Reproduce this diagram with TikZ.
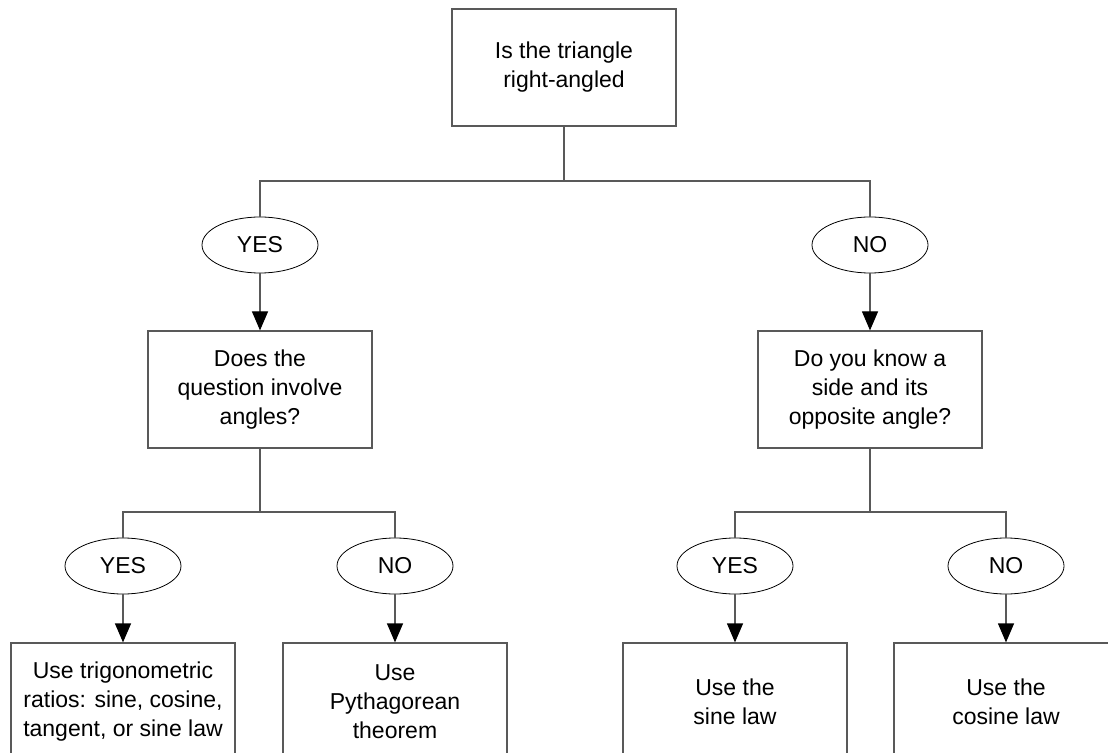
\documentclass[tikz,border=0pt]{standalone}
\usepackage{fontspec}
\setmainfont{Liberation Sans}
\usetikzlibrary{shapes,arrows.meta,positioning,calc}

\tikzset{
  qbox/.style={draw=gray!70!black, line width=0.6pt, minimum width=112pt, minimum height=58.5pt, align=center, inner sep=0pt},
  ans/.style={draw, ellipse, line width=0.4pt, minimum width=58pt, minimum height=28pt, inner sep=0pt},
  link/.style={draw=gray!70!black, line width=0.6pt},
}

\begin{document}
\begin{tikzpicture}[x=0.5pt, y=-0.5pt, >={Triangle[length=9.5pt, width=8pt, color=black]}, font=\fontsize{11.5}{14.5}\selectfont]
            \clip (0,0) rectangle (1108,753);
            \useasboundingbox (0,0) rectangle (1108,753);

            \node[qbox] (tri) at (564,67.5) {Is the triangle\\right-angled};
            \node[ans] (yesA) at (260,245) {YES};
            \node[ans] (noA) at (870,245) {NO};
            \node[qbox, below=28.5pt of yesA] (angles) {Does the\\question involve\\angles?};
            \node[qbox, below=28.5pt of noA] (known) {Do you know a\\side and its\\opposite angle?};

            \node[ans] (yesB) at (123,566) {YES};
            \node[ans] (noB) at (395,566) {NO};
            \node[ans] (yesC) at (735,566) {YES};
            \node[ans] (noC) at (1006,566) {NO};
            \node[qbox, below=24pt of yesB] (trig) {Use trigonometric\\ratios: sine, cosine,\\tangent, or sine law};
            \node[qbox, below=24pt of noB] (pyth) {Use\\Pythagorean\\theorem};
            \node[qbox, below=24pt of yesC] (sine) {Use the\\sine law};
            \node[qbox, below=24pt of noC] (cosine) {Use the\\cosine law};

            \coordinate (splitA) at (564,181);
            \coordinate (splitB) at (260,512);
            \coordinate (splitC) at (870,512);

            \draw[link] (tri.south) -- (splitA);
            \draw[link] (splitA) -| (yesA.north);
            \draw[link] (splitA) -| (noA.north);
            \draw[link, ->] (yesA) -- (angles);
            \draw[link, ->] (noA) -- (known);

            \draw[link] (angles.south) -- (splitB);
            \draw[link] (splitB) -| (yesB.north);
            \draw[link] (splitB) -| (noB.north);
            \draw[link] (known.south) -- (splitC);
            \draw[link] (splitC) -| (yesC.north);
            \draw[link] (splitC) -| (noC.north);

            \draw[link, ->] (yesB) -- (trig);
            \draw[link, ->] (noB) -- (pyth);
            \draw[link, ->] (yesC) -- (sine);
            \draw[link, ->] (noC) -- (cosine);
        \end{tikzpicture}
\end{document}
